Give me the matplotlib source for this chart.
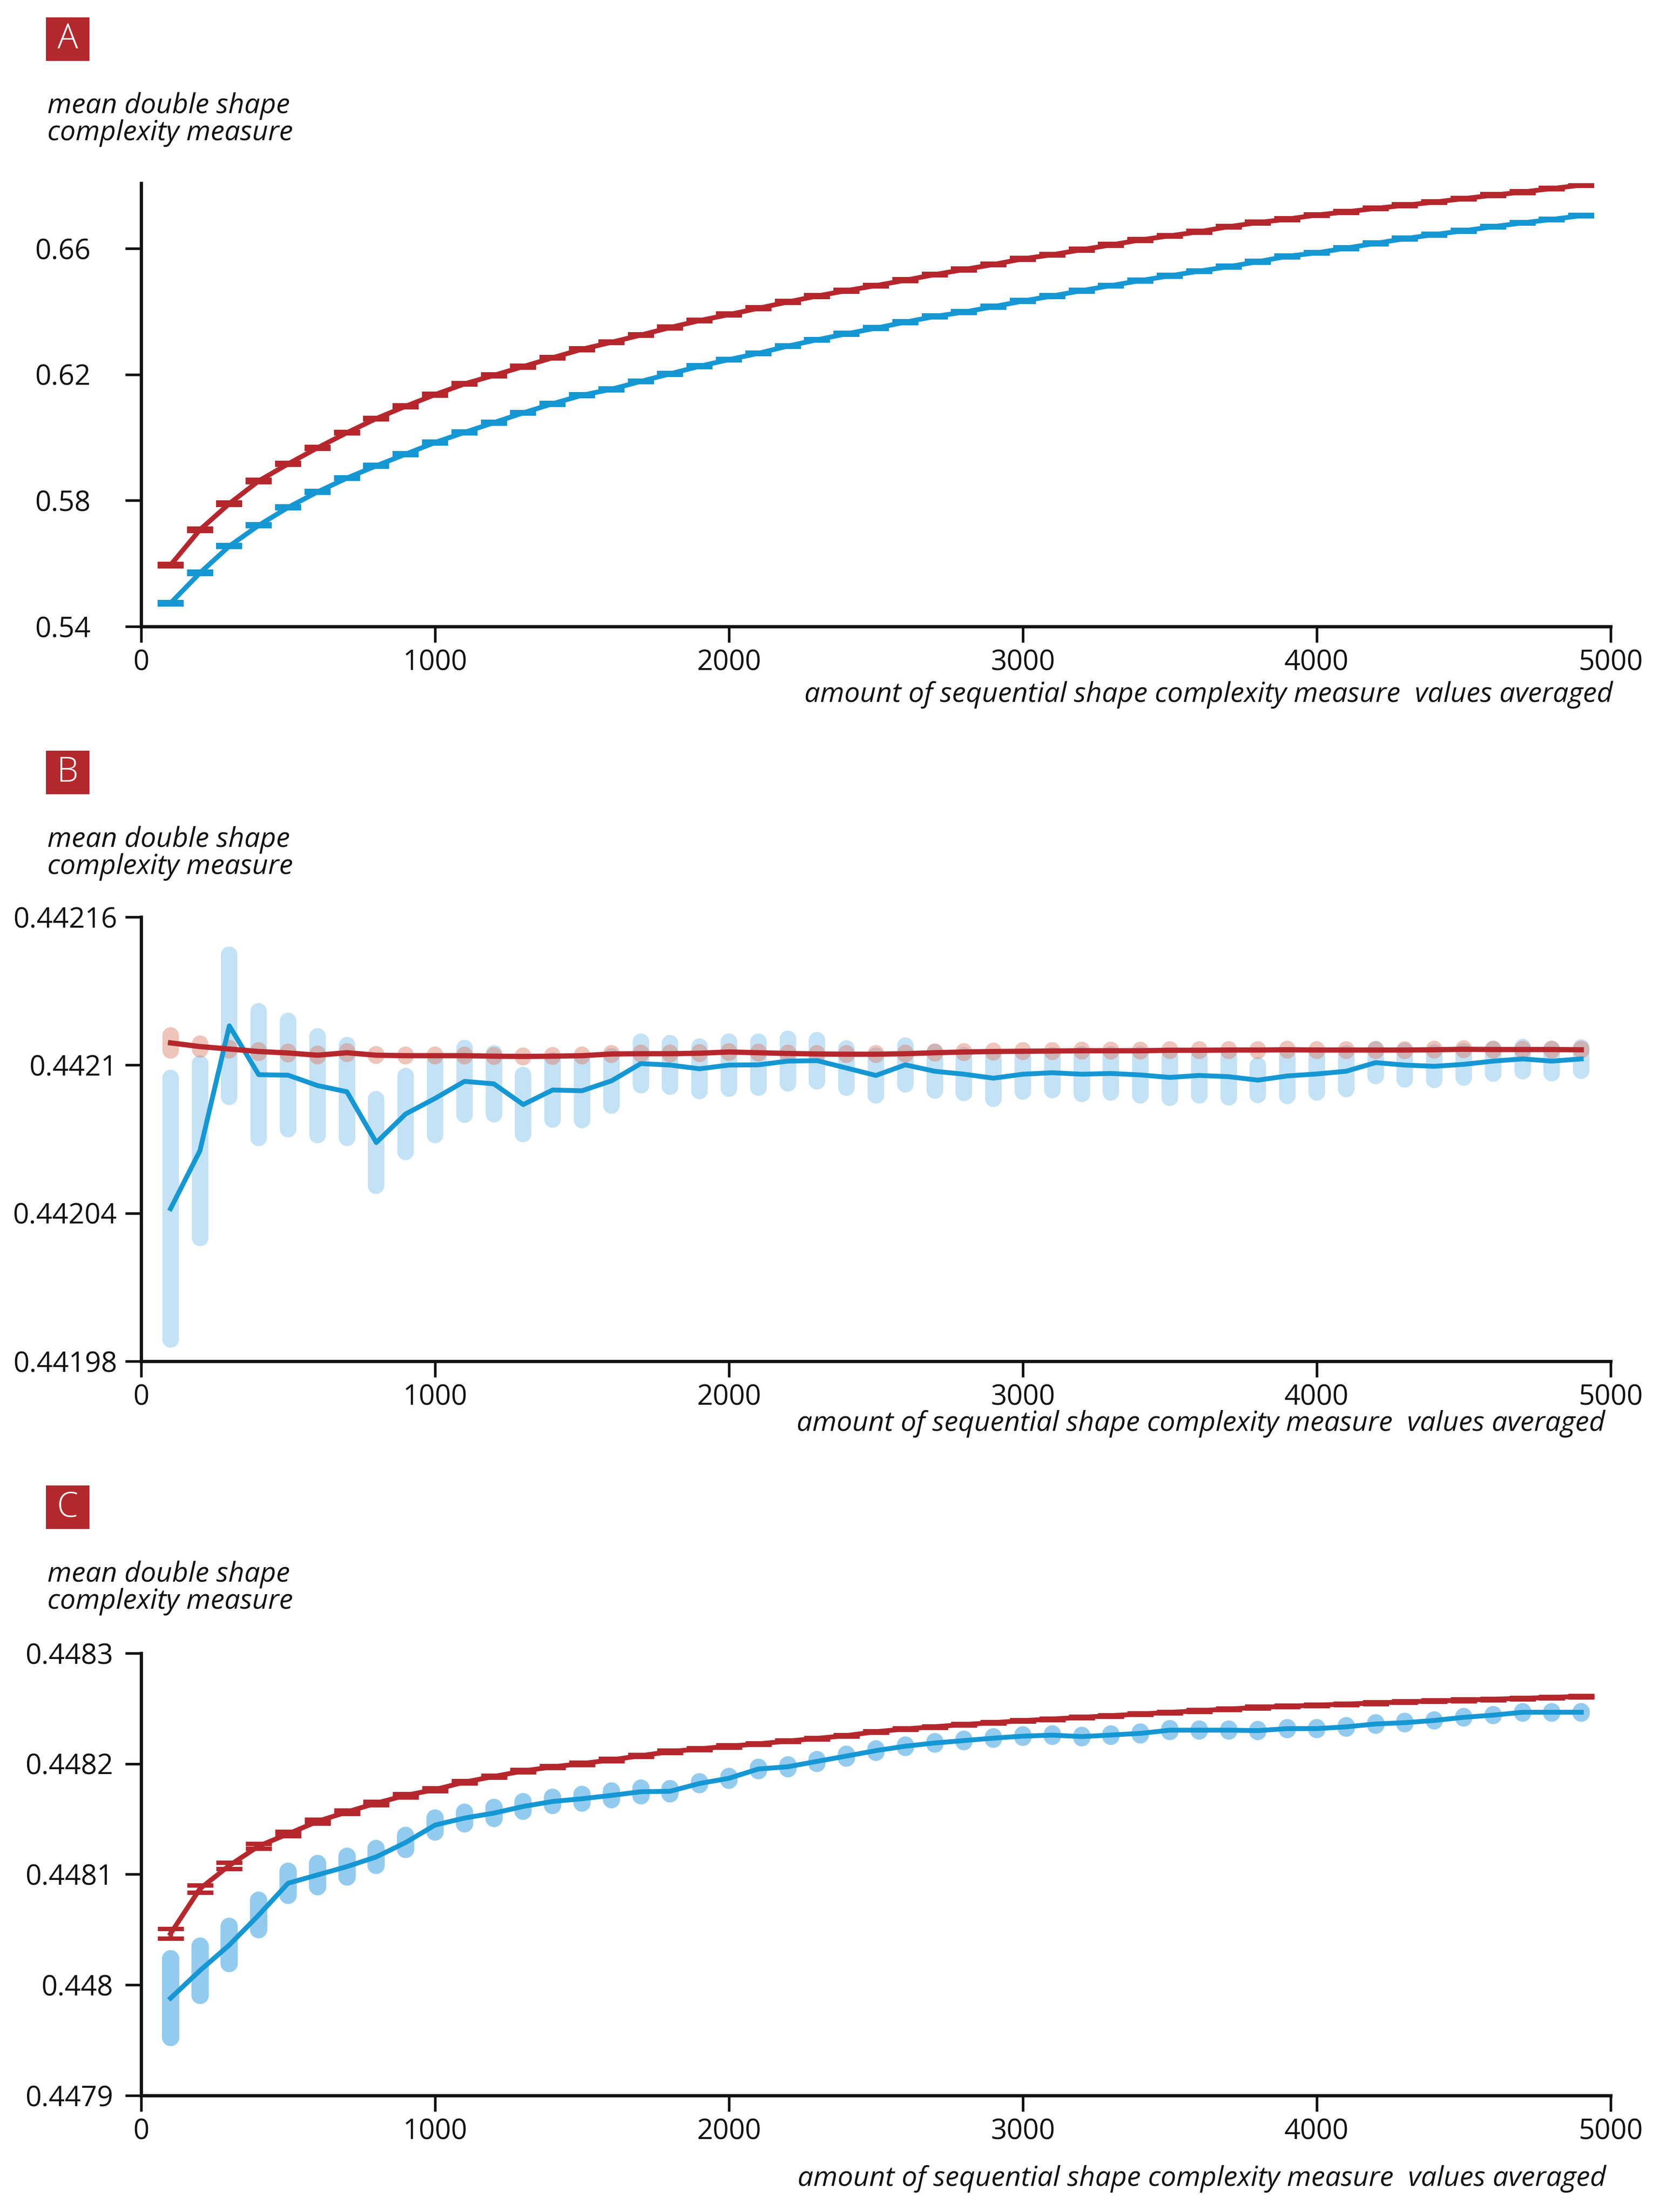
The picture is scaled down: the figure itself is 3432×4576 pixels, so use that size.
import matplotlib
matplotlib.use("Agg")
import matplotlib.pyplot as plt
from matplotlib.patches import Rectangle
import numpy as np

plt.rcParams['font.family'] = ['Open Sans', 'DejaVu Sans']

W, H = 3432, 4576
DPI = 300

# ---------------- data ----------------
x_vals = list(range(100, 5000, 100))   # 100 .. 4900

# Panel A
a_red = [0.5595, 0.5707, 0.5790, 0.5862, 0.5916, 0.5967, 0.6015, 0.6060, 0.6099, 0.6136,
         0.6170, 0.6197, 0.6225, 0.6253, 0.6280, 0.6302, 0.6325, 0.6349, 0.6371, 0.6390,
         0.6410, 0.6430, 0.6449, 0.6466, 0.6482, 0.6499, 0.6517, 0.6533, 0.6549, 0.6567,
         0.6580, 0.6596, 0.6611, 0.6627, 0.6640, 0.6653, 0.6669, 0.6682, 0.6693, 0.6706,
         0.6716, 0.6727, 0.6737, 0.6747, 0.6758, 0.6769, 0.6779, 0.6790, 0.6801]
a_blue = [0.5474, 0.5570, 0.5655, 0.5721, 0.5778, 0.5827, 0.5871, 0.5910, 0.5947, 0.5984,
          0.6016, 0.6047, 0.6078, 0.6107, 0.6134, 0.6153, 0.6178, 0.6202, 0.6226, 0.6247,
          0.6267, 0.6290, 0.6310, 0.6329, 0.6347, 0.6366, 0.6384, 0.6398, 0.6415, 0.6433,
          0.6449, 0.6466, 0.6482, 0.6498, 0.6513, 0.6528, 0.6542, 0.6558, 0.6575, 0.6586,
          0.6601, 0.6616, 0.6631, 0.6644, 0.6656, 0.6669, 0.6681, 0.6692, 0.6704]
a_red_err = [0.0003, 0.0003, 0.0003, 0.00025, 0.00025] + [0.0002] * 44
a_blue_err = [0.0003, 0.0003, 0.00025, 0.00025, 0.0002] + [0.0002] * 44

# Panel B
b_red = [0.4421090, 0.4421075, 0.4421065, 0.4421055, 0.4421049, 0.4421040, 0.4421050, 0.4421040,
         0.4421038, 0.4421038, 0.4421038, 0.4421036, 0.4421035, 0.4421036, 0.4421038, 0.4421045,
         0.4421046, 0.4421046, 0.4421048, 0.4421053, 0.4421050, 0.4421047, 0.4421045, 0.4421044,
         0.4421044, 0.4421046, 0.4421050, 0.4421053, 0.4421055, 0.4421056, 0.4421057, 0.4421058,
         0.4421058, 0.4421058, 0.4421060, 0.4421060, 0.4421061, 0.4421061, 0.4421062, 0.4421061,
         0.4421061, 0.4421061, 0.4421061, 0.4421062, 0.4421064, 0.4421063, 0.4421063, 0.4421063,
         0.4421062]
b_red_err = [3.1e-6, 1.2e-6, 5e-7, 5e-7, 5e-7, 5e-7, 5e-7] + [3e-7] * 42
b_blue = [0.4420418, 0.4420653, 0.4421159, 0.4420961, 0.4420959, 0.4420917, 0.4420892, 0.4420686,
          0.4420802, 0.4420865, 0.4420934, 0.4420924, 0.4420840, 0.4420899, 0.4420896, 0.4420936,
          0.4421006, 0.4421000, 0.4420985, 0.4421000, 0.4421001, 0.4421016, 0.4421018, 0.4420988,
          0.4420958, 0.4421001, 0.4420975, 0.4420963, 0.4420947, 0.4420963, 0.4420969, 0.4420963,
          0.4420966, 0.4420960, 0.4420950, 0.4420958, 0.4420953, 0.4420939, 0.4420956, 0.4420964,
          0.4420975, 0.4421010, 0.4421000, 0.4420995, 0.4421003, 0.4421016, 0.4421025, 0.4421016,
          0.4421025]
b_blue_err = [5.30e-5, 3.54e-5, 2.88e-5, 2.57e-5, 2.19e-5, 2.00e-5, 1.88e-5, 1.75e-5, 1.54e-5, 1.48e-5,
              1.35e-5, 1.23e-5, 1.19e-5, 1.19e-5, 1.19e-5, 1.00e-5, 0.88e-5, 0.88e-5, 0.90e-5, 0.95e-5,
              0.93e-5, 0.90e-5, 0.83e-5, 0.80e-5, 0.80e-5, 0.78e-5, 0.78e-5, 0.76e-5, 0.83e-5, 0.70e-5,
              0.70e-5, 0.80e-5, 0.77e-5, 0.83e-5, 0.83e-5, 0.80e-5, 0.83e-5, 0.60e-5, 0.80e-5, 0.75e-5,
              0.72e-5, 0.55e-5, 0.58e-5, 0.56e-5, 0.53e-5, 0.50e-5, 0.49e-5, 0.49e-5, 0.47e-5]

# Panel C
c_red = [0.4480464, 0.4480870, 0.4481080, 0.4481256, 0.4481366, 0.4481479, 0.4481564, 0.4481644,
         0.4481714, 0.4481767, 0.4481834, 0.4481885, 0.4481935, 0.4481972, 0.4482002, 0.4482035,
         0.4482073, 0.4482110, 0.4482135, 0.4482159, 0.4482180, 0.4482205, 0.4482230, 0.4482255,
         0.4482290, 0.4482315, 0.4482335, 0.4482355, 0.4482372, 0.4482390, 0.4482405, 0.4482420,
         0.4482435, 0.4482450, 0.4482465, 0.4482480, 0.4482495, 0.4482510, 0.4482520, 0.4482530,
         0.4482540, 0.4482550, 0.4482560, 0.4482568, 0.4482576, 0.4482584, 0.4482592, 0.4482600,
         0.4482610]
c_red_err = [4.4e-6, 3.3e-6, 2.8e-6, 2.3e-6, 1.9e-6, 1.9e-6, 1.6e-6, 1.5e-6, 1.6e-6, 1.25e-6] + \
            [1.0e-6] * 10 + [0.7e-6] * 29
c_blue = [0.4479880, 0.4480130, 0.4480361, 0.4480632, 0.4480920, 0.4480995, 0.4481070, 0.4481158,
          0.4481288, 0.4481446, 0.4481509, 0.4481554, 0.4481614, 0.4481659, 0.4481684, 0.4481714,
          0.4481747, 0.4481752, 0.4481822, 0.4481869, 0.4481953, 0.4481973, 0.4482022, 0.4482070,
          0.4482119, 0.4482159, 0.4482188, 0.4482210, 0.4482232, 0.4482250, 0.4482259, 0.4482246,
          0.4482260, 0.4482275, 0.4482304, 0.4482304, 0.4482304, 0.4482300, 0.4482318, 0.4482318,
          0.4482334, 0.4482360, 0.4482372, 0.4482392, 0.4482420, 0.4482440, 0.4482466, 0.4482466,
          0.4482466]
c_blue_err = [3.56e-5, 2.23e-5, 1.68e-5, 1.33e-5, 1.10e-5, 1.05e-5, 0.93e-5, 0.78e-5, 0.65e-5, 0.65e-5,
              0.53e-5, 0.50e-5, 0.45e-5, 0.38e-5, 0.38e-5, 0.38e-5, 0.35e-5, 0.23e-5, 0.13e-5] + \
             [0.17e-5] * 6 + [0.12e-5] * 10 + [0.10e-5] * 8 + [0.06e-5] * 6

a_yticks = [0.54, 0.58, 0.62, 0.66]
a_yticklabels = ["0.54", "0.58", "0.62", "0.66"]
b_yticks = [0.44198, 0.44204, 0.44210, 0.44216]
b_yticklabels = ["0.44198", "0.44204", "0.4421", "0.44216"]
c_yticks = [0.4479, 0.4480, 0.4481, 0.4482, 0.4483]
c_yticklabels = ["0.4479", "0.448", "0.4481", "0.4482", "0.4483"]
x_ticks = [0, 1000, 2000, 3000, 4000, 5000]
x_ticklabels = ["0", "1000", "2000", "3000", "4000", "5000"]

panel_letters = ["A", "B", "C"]
ylabel_lines = ["mean double shape", "complexity measure"]
xlabel_text = "amount of sequential shape complexity measure  values averaged"

# ---------------- style ----------------
RED = "#b5272c"
BLUE = "#1597d3"
LIGHT_BLUE_B = "#c4e2f5"
LIGHT_BLUE_C = "#93cbee"
PINK = (0.86, 0.45, 0.36)
BOX_RED = "#b3282d"
TICK_FS = 14
LABEL_FS = 13.8

def fx(px):
    return px / W

def fy(py):
    return 1 - py / H

fig = plt.figure(figsize=(W / DPI, H / DPI), dpi=DPI)
fig.patch.set_facecolor("white")

def make_axes(top_px, bottom_px):
    left, right = 292, 3332
    ax = fig.add_axes([fx(left), fy(bottom_px), (right - left) / W, (bottom_px - top_px) / H])
    for s in ["top", "right"]:
        ax.spines[s].set_visible(False)
    for s in ["left", "bottom"]:
        ax.spines[s].set_linewidth(1.6)
        ax.spines[s].set_color("#111111")
    ax.set_xlim(0, 5000)
    ax.set_xticks(x_ticks)
    ax.set_xticklabels(x_ticklabels)
    ax.tick_params(axis="both", direction="out", length=8, width=1.3, color="#111111",
                   labelsize=TICK_FS, labelcolor="#111111")
    ax.tick_params(axis="x", pad=3)
    ax.set_facecolor("none")
    return ax

def panel_decor(letter, box_top, ylab_base1, xlab_base, xlab_right):
    box = Rectangle((fx(95), fy(box_top + 90)), 90 / W, 90 / H, transform=fig.transFigure,
                    facecolor=BOX_RED, edgecolor="none")
    fig.patches.append(box)
    fig.text(fx(140), fy(box_top + 45), letter, color="white", fontsize=17,
             ha="center", va="center", fontweight="light")
    fig.text(fx(98), fy(ylab_base1), ylabel_lines[0], fontsize=LABEL_FS, style="italic",
             ha="left", va="baseline", color="#111111")
    fig.text(fx(98), fy(ylab_base1 + 56), ylabel_lines[1], fontsize=LABEL_FS, style="italic",
             ha="left", va="baseline", color="#111111")
    fig.text(fx(xlab_right), fy(xlab_base), xlabel_text, fontsize=LABEL_FS, style="italic",
             ha="right", va="baseline", color="#111111")

# ---------------- Panel A ----------------
axA = make_axes(379, 1296)
axA.set_ylim(0.54, 0.6807)
axA.set_yticks(a_yticks)
axA.set_yticklabels(a_yticklabels)
axA.tick_params(axis="y", pad=17)
axA.errorbar(x_vals, a_blue, yerr=a_blue_err, color=BLUE, lw=2.4, elinewidth=2.4,
             capsize=6.5, capthick=2.4, zorder=3)
axA.errorbar(x_vals, a_red, yerr=a_red_err, color=RED, lw=2.4, elinewidth=2.4,
             capsize=6.5, capthick=2.4, zorder=4)
panel_decor(panel_letters[0], 36, 234, 1452, 3336)

# ---------------- Panel B ----------------
axB = make_axes(1897, 2816)
axB.set_ylim(0.44198, 0.44216)
axB.set_yticks(b_yticks)
axB.set_yticklabels(b_yticklabels)
axB.tick_params(axis="y", pad=4)
bb = np.array(b_blue)
be = np.array(b_blue_err)
axB.vlines(x_vals, bb - be, bb + be, colors=LIGHT_BLUE_B, linewidth=8.2, capstyle="round", zorder=1)
br = np.array(b_red)
bre = np.array(b_red_err)
axB.vlines(x_vals, br - bre, br + bre, colors=[PINK], alpha=0.42, linewidth=8.2,
           capstyle="round", zorder=2)
axB.plot(x_vals, b_blue, color=BLUE, lw=2.4, zorder=3)
axB.plot(x_vals, b_red, color=RED, lw=2.6, zorder=4)
panel_decor(panel_letters[1], 1553, 1752, 2960, 3321)

# ---------------- Panel C ----------------
axC = make_axes(3420, 4335)
axC.set_ylim(0.4479, 0.4483)
axC.set_yticks(c_yticks)
axC.set_yticklabels(c_yticklabels)
axC.tick_params(axis="y", pad=6)
cb = np.array(c_blue)
ce = np.array(c_blue_err)
axC.vlines(x_vals, cb - ce, cb + ce, colors=LIGHT_BLUE_C, linewidth=8.6, capstyle="round", zorder=1)
axC.plot(x_vals, c_blue, color=BLUE, lw=2.4, zorder=3)
axC.errorbar(x_vals, c_red, yerr=c_red_err, color=RED, lw=2.4, elinewidth=2.2,
             capsize=6.5, capthick=2.2, zorder=4)
panel_decor(panel_letters[2], 3073, 3272, 4522, 3322)

fig.savefig("out.png", dpi=DPI, facecolor="white")
